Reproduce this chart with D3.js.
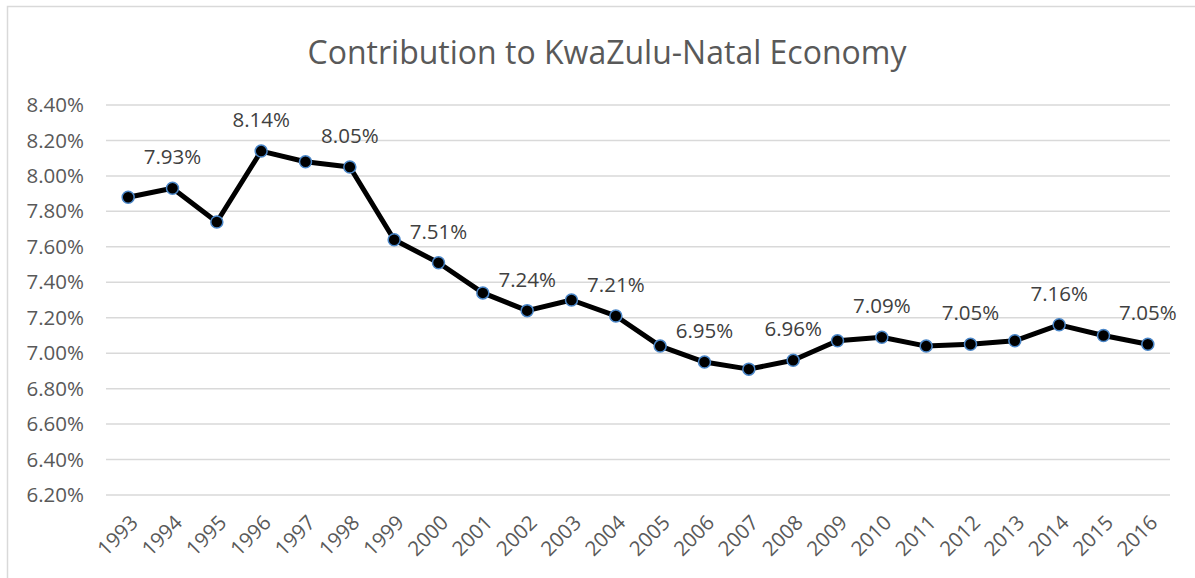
<!DOCTYPE html>
<html>
<head>
<meta charset="utf-8">
<script src="https://cdn.jsdelivr.net/npm/d3@7"></script>
<style>
  body { margin: 0; background: #fff; }
  text { font-family: "Open Sans", sans-serif; }
</style>
</head>
<body>
<svg id="chart" width="1195" height="578"></svg>
<script>
const title = 'Contribution to KwaZulu-Natal Economy';
const years = ['1993','1994','1995','1996','1997','1998','1999','2000','2001','2002','2003','2004',
  '2005','2006','2007','2008','2009','2010','2011','2012','2013','2014','2015','2016'];
const share = [7.88, 7.93, 7.74, 8.14, 8.08, 8.05, 7.64, 7.51, 7.34, 7.24, 7.30, 7.21,
  7.04, 6.95, 6.91, 6.96, 7.07, 7.09, 7.04, 7.05, 7.07, 7.16, 7.10, 7.05];
const yTicks = [6.2, 6.4, 6.6, 6.8, 7.0, 7.2, 7.4, 7.6, 7.8, 8.0, 8.2, 8.4];
// only every other point carries a label
const labelled = ['1994','1996','1998','2000','2002','2004','2006','2008','2010','2012','2014','2016'];

const svg = d3.select('#chart');
const margin = { top: 105, right: 25, bottom: 83, left: 106 };
const width = 1195, height = 578;
const fontSize = 20.5;

// chart frame
svg.append('rect')
  .attr('x', 7.5).attr('y', 6.5)
  .attr('width', 1200).attr('height', 600)
  .attr('fill', '#fff')
  .attr('stroke', '#d9d9d9')
  .attr('stroke-width', 1.5);

svg.append('text')
  .attr('x', 607).attr('y', 64)
  .attr('text-anchor', 'middle')
  .attr('font-size', 32)
  .attr('fill', '#595959')
  .text(title);

const x = d3.scaleBand()
  .domain(years)
  .range([margin.left, width - margin.right]);

const y = d3.scaleLinear()
  .domain([6.2, 8.4])
  .range([height - margin.bottom, margin.top]);

// gridlines
svg.append('g')
  .selectAll('line')
  .data(yTicks)
  .enter().append('line')
  .attr('x1', margin.left)
  .attr('x2', width - margin.right)
  .attr('y1', d => y(d))
  .attr('y2', d => y(d))
  .attr('stroke', '#d9d9d9')
  .attr('stroke-width', 1.5);

// y axis labels
const yAxis = svg.append('g')
  .attr('transform', `translate(${margin.left},0)`)
  .call(d3.axisLeft(y).tickValues(yTicks).tickFormat(d => d.toFixed(2) + '%').tickSize(0).tickPadding(22));
yAxis.select('.domain').remove();
yAxis.selectAll('text')
  .attr('font-family', '"Open Sans", sans-serif')
  .attr('font-size', fontSize)
  .attr('fill', '#595959');

// x axis labels, rotated
const xAxis = svg.append('g')
  .attr('transform', `translate(0,${height - margin.bottom})`)
  .call(d3.axisBottom(x).tickSize(0));
xAxis.select('.domain').remove();
xAxis.selectAll('text')
  .attr('font-family', '"Open Sans", sans-serif')
  .attr('font-size', fontSize)
  .attr('fill', '#595959')
  .attr('text-anchor', 'end')
  .attr('dy', '0.35em')
  .attr('transform', 'translate(6,24) rotate(-45)')
  .attr('y', 0).attr('x', 0);

const cx = d => x(d) + x.bandwidth() / 2;

const line = d3.line()
  .x((d, i) => cx(years[i]))
  .y(d => y(d));

svg.append('path')
  .datum(share)
  .attr('d', line)
  .attr('fill', 'none')
  .attr('stroke', '#000')
  .attr('stroke-width', 5)
  .attr('stroke-linejoin', 'round');

svg.append('g')
  .selectAll('circle')
  .data(share)
  .enter().append('circle')
  .attr('cx', (d, i) => cx(years[i]))
  .attr('cy', d => y(d))
  .attr('r', 6)
  .attr('fill', '#000')
  .attr('stroke', '#4a86c8')
  .attr('stroke-width', 1.5);

svg.append('g')
  .selectAll('text')
  .data(share.map((v, i) => ({ year: years[i], v })).filter(d => labelled.includes(d.year)))
  .enter().append('text')
  .attr('x', d => cx(d.year))
  .attr('y', d => y(d.v) - 31)
  .attr('dy', '0.35em')
  .attr('text-anchor', 'middle')
  .attr('font-size', fontSize)
  .attr('fill', '#404040')
  .text(d => d.v.toFixed(2) + '%');
</script>
</body>
</html>
